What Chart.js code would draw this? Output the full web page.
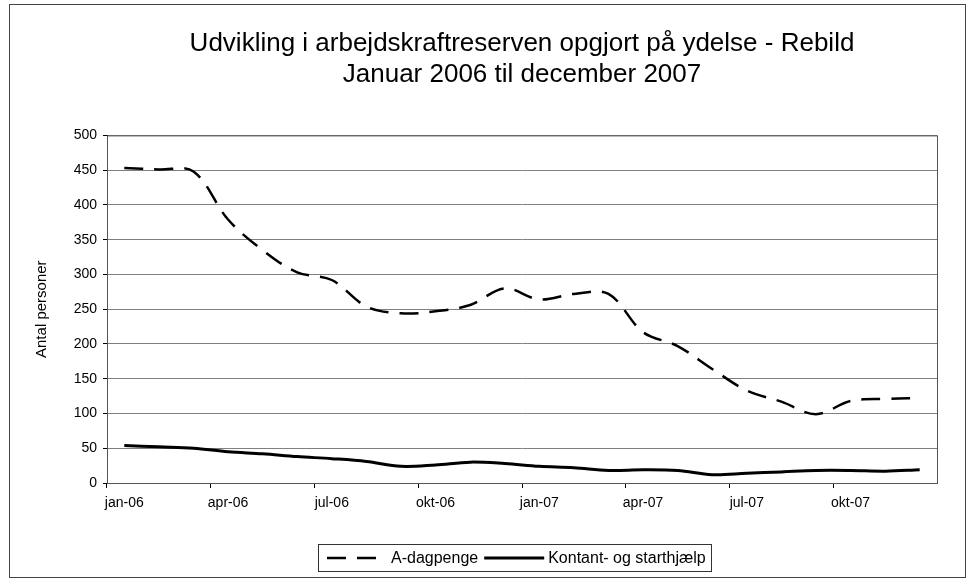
<!DOCTYPE html>
<html>
<head>
<meta charset="utf-8">
<script src="https://cdn.jsdelivr.net/npm/chart.js@4.4.1/dist/chart.umd.min.js"></script>
<style>
  body { margin: 0; background: #fff; }
</style>
</head>
<body>
<canvas id="udvikling" width="971" height="583"></canvas>
<script>
// Månedsakse: januar 2006 til december 2007
const maaneder = ['jan-06', 'feb-06', 'mar-06', 'apr-06', 'maj-06', 'jun-06', 'jul-06', 'aug-06', 'sep-06', 'okt-06', 'nov-06', 'dec-06',
                  'jan-07', 'feb-07', 'mar-07', 'apr-07', 'maj-07', 'jun-07', 'jul-07', 'aug-07', 'sep-07', 'okt-07', 'nov-07', 'dec-07'];
const aDagpenge = [453, 451, 448, 379, 335, 303, 292, 254, 244, 247, 256, 280,
                   264, 272, 272, 217, 197, 164, 133, 117, 99, 118, 121, 122];
const kontantStart = [54, 52, 50, 45, 42, 38, 35, 31, 24, 26, 30, 28,
                      24, 22, 18, 19, 18, 12, 14, 16, 18, 18, 17, 19];
const yTicks = [0, 50, 100, 150, 200, 250, 300, 350, 400, 450, 500];

const fontFamily = "'Liberation Sans', Arial, sans-serif";
Chart.defaults.font.family = fontFamily;
Chart.defaults.color = '#000';

// ramme om diagrammet og plotområdet, samt forklaringen (tegnes selv for at få stiplede streger)
const rammePlugin = {
    id: 'ramme',
    beforeDraw(chart) {
        const ctx = chart.ctx;
        ctx.save();
        ctx.fillStyle = '#fff';
        ctx.fillRect(0, 0, chart.width, chart.height);
        ctx.restore();
    },
    afterDraw(chart) {
        const ctx = chart.ctx;
        const a = chart.chartArea;
        ctx.save();
        ctx.strokeStyle = '#555';
        ctx.lineWidth = 1;
        ctx.strokeRect(a.left + 0.5, a.top + 0.5, a.right - a.left, a.bottom - a.top);

        // forklaring
        const sample = 60, efterStreg = 4, mellemrum = 6;
        ctx.font = '16px ' + fontFamily;
        const items = chart.data.datasets.map(ds => ({
            label: ds.label,
            dash: ds.borderDash || [],
            width: ds.borderWidth,
            tw: ctx.measureText(ds.label).width
        }));
        let total = 0;
        items.forEach((it, i) => { total += sample + efterStreg + it.tw + (i ? mellemrum : 0); });
        const midt = 516;
        const yLeg = 558;
        let x = Math.round(midt - total / 2);
        ctx.strokeStyle = '#333';
        ctx.lineWidth = 1;
        ctx.strokeRect(x - 8.5, yLeg - 13.5, Math.round(total + 14), 27);
        ctx.textBaseline = 'middle';
        ctx.fillStyle = '#000';
        items.forEach((it, i) => {
            if (i) x += mellemrum;
            ctx.beginPath();
            ctx.setLineDash(it.dash);
            ctx.lineWidth = it.width;
            ctx.strokeStyle = '#000';
            ctx.moveTo(x, yLeg);
            ctx.lineTo(x + sample, yLeg);
            ctx.stroke();
            ctx.setLineDash([]);
            x += sample + efterStreg;
            ctx.fillText(it.label, x, yLeg + 1);
            x += it.tw;
        });

        ctx.strokeStyle = '#444';
        ctx.lineWidth = 1;
        ctx.strokeRect(9.5, 4.5, 956, 573);
        ctx.restore();
    }
};

const ctx = document.getElementById('udvikling').getContext('2d');
new Chart(ctx, {
    type: 'line',
    data: {
        labels: maaneder,
        datasets: [
            {
                label: 'A-dagpenge',
                data: aDagpenge,
                borderColor: '#000',
                backgroundColor: '#000',
                borderWidth: 2.5,
                borderDash: [19, 11],
                pointRadius: 0,
                tension: 0.35,
                fill: false
            },
            {
                label: 'Kontant- og starthjælp',
                data: kontantStart,
                borderColor: '#000',
                backgroundColor: '#000',
                borderWidth: 3,
                pointRadius: 0,
                tension: 0.35,
                fill: false
            }
        ]
    },
    options: {
        responsive: false,
        animation: false,
        devicePixelRatio: 1,
        layout: {
            padding: { left: 33, right: 34, top: 10, bottom: 60 }
        },
        scales: {
            x: {
                offset: true,
                grid: {
                    offset: true,
                    drawOnChartArea: false,
                    tickLength: 5,
                    color: c => (c.index % 3 === 0 ? '#000' : 'rgba(0,0,0,0)')
                },
                border: { display: true, color: '#000', width: 1 },
                ticks: {
                    autoSkip: false,
                    maxRotation: 0,
                    padding: 7,
                    font: { size: 14 },
                    callback: (v, i) => (i % 3 === 0 ? maaneder[i] : '')
                },
                afterFit: s => { s.height = 40; }
            },
            y: {
                min: 0,
                max: 500,
                afterBuildTicks: s => { s.ticks = yTicks.map(v => ({ value: v })); },
                grid: {
                    color: '#808080',
                    tickColor: '#000',
                    tickLength: 4
                },
                border: { display: true, color: '#000', width: 1 },
                ticks: {
                    font: { size: 14 },
                    padding: 6
                },
                title: {
                    display: true,
                    text: 'Antal personer',
                    font: { size: 15 },
                    padding: { top: 0, bottom: 8 }
                },
                afterFit: s => { s.width = 74; }
            }
        },
        plugins: {
            title: {
                display: true,
                fullSize: false,
                text: ['Udvikling i arbejdskraftreserven opgjort på ydelse - Rebild', 'Januar 2006 til december 2007'],
                font: { size: 26, weight: 'normal', lineHeight: 1.2 },
                color: '#000',
                padding: { top: 18, bottom: 45 }
            },
            legend: { display: false },
            tooltip: { enabled: false }
        }
    },
    plugins: [rammePlugin]
});
</script>
</body>
</html>
